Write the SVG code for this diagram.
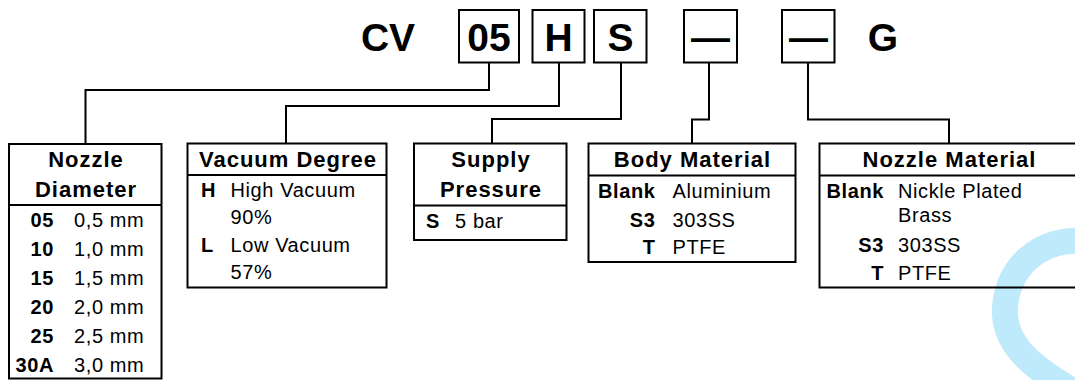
<svg xmlns="http://www.w3.org/2000/svg" width="1075" height="380" viewBox="0 0 1075 380">
<style>
.box{fill:none;stroke:#000;stroke-width:2}
.conn{fill:none;stroke:#000;stroke-width:2}
.big{font-family:"Liberation Sans",Arial,sans-serif;font-weight:bold;font-size:39px;fill:#000;text-anchor:middle}
.title{font-family:"Liberation Sans",Arial,sans-serif;font-weight:bold;font-size:22px;letter-spacing:1px;fill:#000;text-anchor:middle}
.code{font-family:"Liberation Sans",Arial,sans-serif;font-weight:bold;font-size:20px;letter-spacing:0.6px;fill:#000}
.val{font-family:"Liberation Sans",Arial,sans-serif;font-size:20px;letter-spacing:0.6px;fill:#000}
.end{text-anchor:end}
</style>
<rect width="1075" height="380" fill="#fff"/>
<path d="M1090,242 C1040,234 1003,270 1005,315 C1007,350 1040,372 1078,394" fill="none" stroke="#BFEAFB" stroke-width="26"/>

<g id="code">
<text class="big" x="388" y="51">CV</text>
<rect class="box" x="459" y="10" width="60" height="52.5"/>
<text class="big" x="489" y="51">05</text>
<rect class="box" x="532.5" y="10" width="52" height="52.5"/>
<text class="big" x="558.5" y="51">H</text>
<rect class="box" x="594" y="10" width="52.5" height="52.5"/>
<text class="big" x="620.5" y="51">S</text>
<rect class="box" x="684" y="10" width="53" height="52.5"/>
<text class="big" x="710.5" y="51">—</text>
<rect class="box" x="782" y="10" width="52.5" height="52.5"/>
<text class="big" x="808.5" y="51">—</text>
<text class="big" x="883" y="51">G</text>
</g>

<g id="connectors">
<path class="conn" d="M489,62.5 V90 H85.5 V144"/>
<path class="conn" d="M559,62.5 V106 H286 V143.5"/>
<path class="conn" d="M621,62.5 V119 H492 V143.5"/>
<path class="conn" d="M709,62.5 V119.5 H692 V143.5"/>
<path class="conn" d="M808,62.5 V119.5 H949 V144"/>
</g>

<g id="nozzle-diameter">
<rect class="box" x="9" y="144" width="152.5" height="234.5"/>
<line class="box" x1="9" y1="205" x2="161.5" y2="205"/>
<text class="title" x="86" y="167">Nozzle</text>
<text class="title" x="86" y="197">Diameter</text>
<text class="code end" x="54" y="227">05</text><text class="val" x="74" y="227">0,5 mm</text>
<text class="code end" x="54" y="256">10</text><text class="val" x="74" y="256">1,0 mm</text>
<text class="code end" x="54" y="285">15</text><text class="val" x="74" y="285">1,5 mm</text>
<text class="code end" x="54" y="314">20</text><text class="val" x="74" y="314">2,0 mm</text>
<text class="code end" x="54" y="343">25</text><text class="val" x="74" y="343">2,5 mm</text>
<text class="code end" x="54" y="372">30A</text><text class="val" x="74" y="372">3,0 mm</text>
</g>

<g id="vacuum-degree">
<rect class="box" x="187.5" y="143.5" width="199" height="144"/>
<line class="box" x1="187.5" y1="175" x2="386.5" y2="175"/>
<text class="title" x="288" y="167">Vacuum Degree</text>
<text class="code" x="201" y="197">H</text><text class="val" x="230.5" y="197">High Vacuum</text>
<text class="val" x="230.5" y="223.5">90%</text>
<text class="code" x="201" y="251.5">L</text><text class="val" x="230.5" y="251.5">Low Vacuum</text>
<text class="val" x="230.5" y="278.5">57%</text>
</g>

<g id="supply-pressure">
<rect class="box" x="414" y="143.5" width="152.5" height="96.5"/>
<line class="box" x1="414" y1="205.5" x2="566.5" y2="205.5"/>
<text class="title" x="491" y="167">Supply</text>
<text class="title" x="491" y="197">Pressure</text>
<text class="code" x="426" y="227.5">S</text><text class="val" x="455" y="227.5">5 bar</text>
</g>

<g id="body-material">
<rect class="box" x="588.5" y="143.5" width="207" height="118.5"/>
<line class="box" x1="588.5" y1="175.5" x2="795.5" y2="175.5"/>
<text class="title" x="692.5" y="167">Body Material</text>
<text class="code end" x="655.5" y="197.5">Blank</text><text class="val" x="672.5" y="197.5">Aluminium</text>
<text class="code end" x="655.5" y="227">S3</text><text class="val" x="672.5" y="227">303SS</text>
<text class="code end" x="655.5" y="254">T</text><text class="val" x="672.5" y="254">PTFE</text>
</g>

<g id="nozzle-material">
<rect class="box" x="819.5" y="143.5" width="260" height="144"/>
<line class="box" x1="819.5" y1="175.5" x2="1079.5" y2="175.5"/>
<text class="title" x="949.5" y="167">Nozzle Material</text>
<text class="code end" x="884" y="198">Blank</text><text class="val" x="898" y="198">Nickle Plated</text>
<text class="val" x="898" y="222">Brass</text>
<text class="code end" x="884" y="251.5">S3</text><text class="val" x="898" y="251.5">303SS</text>
<text class="code end" x="884" y="280">T</text><text class="val" x="898" y="280">PTFE</text>
</g>
</svg>
